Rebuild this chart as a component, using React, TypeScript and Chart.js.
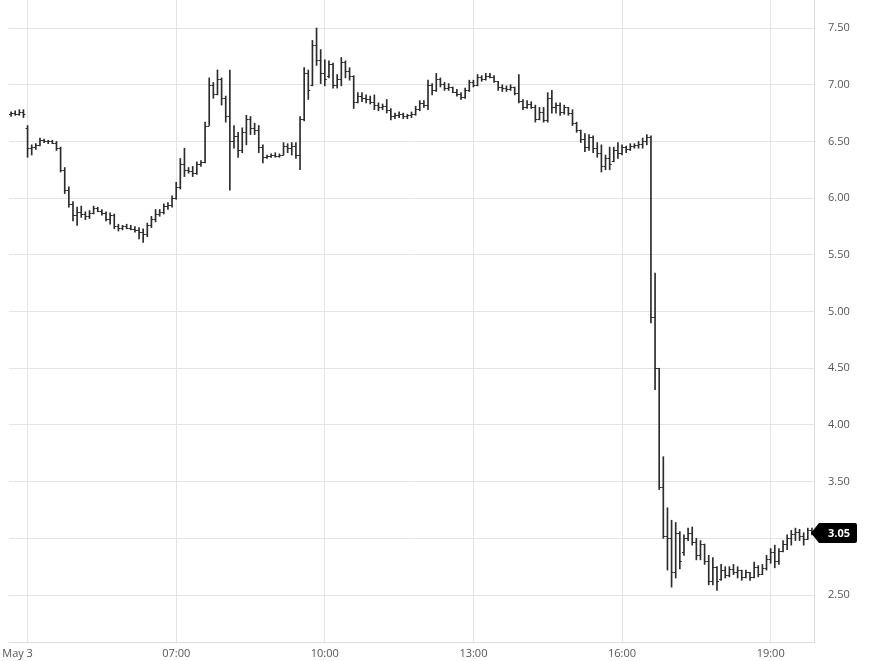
import React, { useEffect, useRef } from "react";
import { Chart, registerables } from "chart.js";

Chart.register(...registerables);

// 5-minute bars starting 03:40
const START_TIME = "03:40";
const BAR_MINUTES = 5;

const opens = [
  6.74, 6.75, 6.74, 6.76, 6.62, 6.44, 6.45, 6.47, 6.51, 6.5,
  6.5, 6.49, 6.44, 6.25, 6.07, 5.95, 5.85, 5.88, 5.86, 5.84,
  5.87, 5.91, 5.89, 5.87, 5.82, 5.85, 5.75, 5.74, 5.75, 5.74,
  5.73, 5.72, 5.7, 5.68, 5.76, 5.82, 5.86, 5.88, 5.93, 5.94,
  6.0, 6.1, 6.3, 6.25, 6.24, 6.22, 6.3, 6.32, 6.64, 7.0,
  6.92, 7.05, 6.88, 6.72, 6.5, 6.55, 6.42, 6.58, 6.7, 6.62,
  6.6, 6.45, 6.36, 6.37, 6.38, 6.37, 6.38, 6.46, 6.44, 6.46,
  6.38, 6.7, 7.1, 7.0, 7.35, 7.22, 7.1, 7.08, 7.18, 7.0,
  7.05, 7.2, 7.12, 7.08, 6.85, 6.9, 6.88, 6.87, 6.85, 6.82,
  6.8, 6.81, 6.78, 6.72, 6.73, 6.74, 6.72, 6.73, 6.74, 6.79,
  6.84, 6.82, 7.0, 6.95, 7.05, 7.01, 6.97, 6.98, 6.94, 6.92,
  6.89, 6.95, 7.02, 7.0, 7.07, 7.05, 7.08, 7.07, 7.03, 6.98,
  6.97, 6.96, 6.98, 6.93, 6.86, 6.8, 6.83, 6.8, 6.7, 6.76,
  6.69, 6.88, 6.8, 6.82, 6.76, 6.8, 6.75, 6.66, 6.6, 6.52,
  6.45, 6.54, 6.44, 6.4, 6.28, 6.35, 6.33, 6.42, 6.4, 6.45,
  6.43, 6.46, 6.47, 6.48, 6.5, 6.54, 4.95, 4.5, 3.45, 3.02,
  3.0, 2.7, 3.05, 2.88, 3.0, 3.05, 2.97, 2.85, 2.95, 2.8,
  2.62, 2.75, 2.64, 2.72, 2.68, 2.73, 2.7, 2.72, 2.66, 2.7,
  2.66, 2.75, 2.69, 2.74, 2.82, 2.88, 2.8, 2.89, 2.95, 3.0,
  3.04, 3.06, 3.02, 2.99, 3.07,
];

const highs = [
  6.76, 6.77, 6.78, 6.78, 6.64, 6.47, 6.48, 6.53, 6.52, 6.51,
  6.51, 6.5, 6.45, 6.27, 6.1, 5.97, 5.92, 5.93, 5.88, 5.89,
  5.93, 5.92, 5.9, 5.88, 5.87, 5.86, 5.77, 5.76, 5.77, 5.76,
  5.75, 5.74, 5.73, 5.78, 5.84, 5.9, 5.9, 5.95, 5.96, 6.02,
  6.14, 6.35, 6.44, 6.27, 6.28, 6.32, 6.33, 6.67, 7.06, 7.02,
  7.13, 7.06, 6.9, 7.13, 6.64, 6.58, 6.62, 6.73, 6.72, 6.66,
  6.64, 6.47, 6.38, 6.39, 6.4, 6.39, 6.49, 6.48, 6.49, 6.49,
  6.72, 7.15, 7.13, 7.39, 7.5, 7.31, 7.22, 7.21, 7.19, 7.09,
  7.24, 7.21, 7.15, 7.08, 6.93, 6.93, 6.91, 6.9, 6.91, 6.84,
  6.83, 6.87, 6.79, 6.75, 6.76, 6.75, 6.74, 6.76, 6.81, 6.86,
  6.86, 7.04, 7.01, 7.1, 7.06, 7.02, 7.01, 6.98, 6.96, 6.93,
  6.97, 7.04, 7.04, 7.09, 7.08, 7.1, 7.1, 7.08, 7.03, 7.0,
  6.99, 7.0, 6.98, 7.09, 6.87, 6.86, 6.85, 6.82, 6.8, 6.8,
  6.93, 6.95, 6.84, 6.84, 6.82, 6.8, 6.78, 6.67, 6.6, 6.57,
  6.56, 6.55, 6.49, 6.47, 6.38, 6.45, 6.45, 6.49, 6.47, 6.46,
  6.48, 6.48, 6.5, 6.53, 6.56, 6.55, 5.34, 4.5, 3.72, 3.27,
  3.16, 3.14, 3.06, 3.03, 3.09, 3.1, 3.0, 2.98, 2.95, 2.85,
  2.83, 2.75, 2.77, 2.75, 2.75, 2.77, 2.75, 2.72, 2.72, 2.7,
  2.79, 2.76, 2.77, 2.85, 2.91, 2.94, 2.91, 2.98, 3.03, 3.07,
  3.09, 3.08, 3.05, 3.09, 3.09,
];

const lows = [
  6.72, 6.73, 6.73, 6.71, 6.36, 6.38, 6.43, 6.46, 6.49, 6.48,
  6.48, 6.42, 6.23, 6.04, 5.92, 5.8, 5.76, 5.83, 5.81, 5.82,
  5.86, 5.88, 5.85, 5.8, 5.77, 5.73, 5.71, 5.72, 5.73, 5.72,
  5.7, 5.64, 5.61, 5.66, 5.74, 5.79, 5.84, 5.86, 5.9, 5.92,
  5.99, 6.08, 6.19, 6.22, 6.19, 6.21, 6.28, 6.31, 6.64, 6.88,
  6.91, 6.82, 6.67, 6.07, 6.44, 6.36, 6.4, 6.47, 6.56, 6.56,
  6.4, 6.31, 6.35, 6.36, 6.36, 6.36, 6.38, 6.4, 6.38, 6.35,
  6.25, 6.68, 6.87, 6.99, 7.17, 7.01, 6.99, 7.06, 6.97, 6.97,
  6.99, 7.06, 7.04, 6.79, 6.84, 6.85, 6.84, 6.83, 6.78, 6.77,
  6.78, 6.75, 6.69, 6.7, 6.71, 6.7, 6.7, 6.71, 6.73, 6.77,
  6.8, 6.78, 6.91, 6.94, 6.98, 6.95, 6.95, 6.93, 6.9, 6.87,
  6.88, 6.94, 6.98, 6.99, 7.03, 7.04, 7.06, 7.02, 6.95, 6.94,
  6.94, 6.95, 6.91, 6.84, 6.78, 6.79, 6.79, 6.67, 6.69, 6.67,
  6.67, 6.75, 6.75, 6.73, 6.74, 6.73, 6.64, 6.58, 6.49, 6.41,
  6.42, 6.4, 6.36, 6.23, 6.25, 6.25, 6.32, 6.35, 6.38, 6.4,
  6.42, 6.44, 6.44, 6.44, 6.47, 4.9, 4.31, 3.43, 3.0, 2.72,
  2.57, 2.65, 2.73, 2.85, 2.98, 2.94, 2.81, 2.81, 2.77, 2.59,
  2.59, 2.54, 2.63, 2.65, 2.66, 2.68, 2.65, 2.63, 2.65, 2.63,
  2.65, 2.66, 2.68, 2.72, 2.78, 2.74, 2.77, 2.88, 2.9, 2.94,
  2.98, 2.98, 2.94, 2.99, 3.03,
];

const closes = [
  6.75, 6.74, 6.76, 6.74, 6.44, 6.45, 6.47, 6.51, 6.5, 6.5,
  6.49, 6.44, 6.25, 6.07, 5.95, 5.85, 5.88, 5.86, 5.84, 5.87,
  5.91, 5.89, 5.87, 5.82, 5.85, 5.75, 5.74, 5.75, 5.74, 5.73,
  5.72, 5.7, 5.68, 5.76, 5.82, 5.86, 5.88, 5.93, 5.94, 6.0,
  6.1, 6.3, 6.25, 6.24, 6.22, 6.3, 6.32, 6.64, 7.0, 6.92,
  7.05, 6.88, 6.72, 6.5, 6.55, 6.42, 6.58, 6.7, 6.62, 6.6,
  6.45, 6.36, 6.37, 6.38, 6.37, 6.38, 6.46, 6.44, 6.46, 6.38,
  6.7, 7.1, 6.95, 7.35, 7.22, 7.1, 7.05, 7.18, 7.0, 7.05,
  7.2, 7.12, 7.08, 6.85, 6.9, 6.88, 6.87, 6.85, 6.82, 6.8,
  6.81, 6.78, 6.72, 6.73, 6.74, 6.72, 6.73, 6.74, 6.79, 6.84,
  6.82, 7.0, 6.95, 7.05, 7.01, 6.97, 6.98, 6.94, 6.92, 6.89,
  6.95, 7.02, 7.0, 7.07, 7.05, 7.08, 7.07, 7.03, 6.98, 6.97,
  6.96, 6.98, 6.93, 6.86, 6.8, 6.83, 6.8, 6.7, 6.76, 6.69,
  6.88, 6.8, 6.82, 6.76, 6.8, 6.75, 6.66, 6.6, 6.52, 6.45,
  6.54, 6.44, 6.4, 6.28, 6.35, 6.3, 6.42, 6.4, 6.45, 6.43,
  6.46, 6.47, 6.48, 6.5, 6.54, 4.95, 4.5, 3.45, 3.02, 3.0,
  2.7, 3.05, 2.8, 3.0, 3.05, 2.97, 2.85, 2.95, 2.8, 2.62,
  2.75, 2.62, 2.72, 2.68, 2.73, 2.7, 2.72, 2.66, 2.7, 2.66,
  2.75, 2.69, 2.74, 2.82, 2.88, 2.8, 2.89, 2.95, 3.0, 3.04,
  3.06, 3.02, 2.99, 3.07, 3.05,
];

const xTickTimes = ["04:00", "07:00", "10:00", "13:00", "16:00", "19:00"];
const xTickLabels = ["May 3", "07:00", "10:00", "13:00", "16:00", "19:00"];
const yTicks = [2.5, 3.0, 3.5, 4.0, 4.5, 5.0, 5.5, 6.0, 6.5, 7.0, 7.5];
const lastPrice = 3.05;

const BAR_COLOR = "#2b2b2b";
const FONT = "'Open Sans', 'DejaVu Sans', sans-serif";

function toMinutes(s: string) {
  const [h, m] = s.split(":").map(Number);
  return h * 60 + m;
}
function fmt(min: number) {
  const h = Math.floor(min / 60);
  const m = min % 60;
  return String(h).padStart(2, "0") + ":" + String(m).padStart(2, "0");
}

const startMin = toMinutes(START_TIME);
const labels = opens.map((_, i) => fmt(startMin + i * BAR_MINUTES));

const ohlcTicksPlugin = {
  id: "ohlcTicks",
  afterDatasetsDraw(chart: any) {
    const meta = chart.getDatasetMeta(0);
    const ys = chart.scales.y;
    const ctx = chart.ctx;
    ctx.save();
    ctx.strokeStyle = BAR_COLOR;
    ctx.lineWidth = 1;
    ctx.beginPath();
    meta.data.forEach((el: any, i: number) => {
      const x = el.x;
      const yo = Math.round(ys.getPixelForValue(opens[i])) + 0.5;
      const yc = Math.round(ys.getPixelForValue(closes[i])) + 0.5;
      ctx.moveTo(x - 2, yo);
      ctx.lineTo(x, yo);
      ctx.moveTo(x, yc);
      ctx.lineTo(x + 2, yc);
    });
    ctx.stroke();
    ctx.restore();
  },
};

const priceTagPlugin = {
  id: "priceTag",
  afterDraw(chart: any) {
    const ys = chart.scales.y;
    const area = chart.chartArea;
    const ctx = chart.ctx;
    const y = Math.round(ys.getPixelForValue(lastPrice));
    const tip = area.right - 3;
    const left = area.right + 5;
    const right = area.right + 43;
    const h = 10;
    ctx.save();
    ctx.fillStyle = "#000";
    ctx.beginPath();
    ctx.moveTo(tip, y);
    ctx.lineTo(left, y - h);
    ctx.lineTo(right - 2, y - h);
    ctx.quadraticCurveTo(right, y - h, right, y - h + 2);
    ctx.lineTo(right, y + h - 2);
    ctx.quadraticCurveTo(right, y + h, right - 2, y + h);
    ctx.lineTo(left, y + h);
    ctx.closePath();
    ctx.fill();
    ctx.fillStyle = "#fff";
    ctx.font = "bold 11px " + FONT;
    ctx.textAlign = "center";
    ctx.textBaseline = "middle";
    ctx.fillText(lastPrice.toFixed(2), (left + right) / 2 + 1, y + 0.5);
    ctx.restore();
  },
};

export default function App() {
  const ref = useRef<HTMLCanvasElement | null>(null);

  useEffect(() => {
    document.body.style.margin = "0";
    const canvas = ref.current;
    if (!canvas) return;
    const tickIdx = xTickTimes.map((t) => labels.indexOf(t));
    const chart = new Chart(canvas, {
      type: "bar",
      data: {
        labels,
        datasets: [
          {
            data: lows.map((l, i) => [l, highs[i]]) as any,
            backgroundColor: BAR_COLOR,
            borderWidth: 0,
            barThickness: 1,
          },
        ],
      },
      options: {
        animation: false,
        responsive: true,
        maintainAspectRatio: false,
        layout: { padding: { left: 9, top: 0, right: 0, bottom: 0 } },
        plugins: {
          legend: { display: false },
          tooltip: { enabled: false },
        },
        scales: {
          x: {
            type: "category",
            offset: true,
            grid: {
              offset: false,
              color: "#e4e4e4",
              lineWidth: 1,
              drawTicks: false,
            },
            border: { display: true, color: "#dddddd" },
            afterBuildTicks: (scale: any) => {
              scale.ticks = tickIdx.map((v) => ({ value: v }));
            },
            afterFit: (scale: any) => {
              scale.height = 19;
              scale.paddingLeft = 0;
              scale.paddingRight = 0;
            },
            ticks: {
              autoSkip: false,
              maxRotation: 0,
              padding: 5,
              color: "#555",
              font: { family: FONT, size: 11 },
              callback: function (this: any, value: any) {
                const lab = this.getLabelForValue(value);
                const k = xTickTimes.indexOf(lab);
                if (k < 0) return null;
                return k === 0 ? xTickLabels[k] + "       " : xTickLabels[k];
              },
            },
          },
          y: {
            position: "right",
            min: 2.086,
            max: 7.747,
            grid: { color: "#e4e4e4", lineWidth: 1, drawTicks: false },
            border: { display: true, color: "#dddddd" },
            afterBuildTicks: (scale: any) => {
              scale.ticks = yTicks.map((v) => ({ value: v }));
            },
            afterFit: (scale: any) => {
              scale.width = 55;
              scale.paddingTop = 0;
              scale.paddingBottom = 0;
            },
            ticks: {
              padding: 14,
              color: "#555",
              font: { family: FONT, size: 11 },
              callback: (v: any) => Number(v).toFixed(2),
            },
          },
        },
      },
      plugins: [ohlcTicksPlugin, priceTagPlugin],
    });
    return () => chart.destroy();
  }, []);

  return (
    <div style={{ width: 869, height: 661, position: "relative" }}>
      <canvas ref={ref} />
    </div>
  );
}
